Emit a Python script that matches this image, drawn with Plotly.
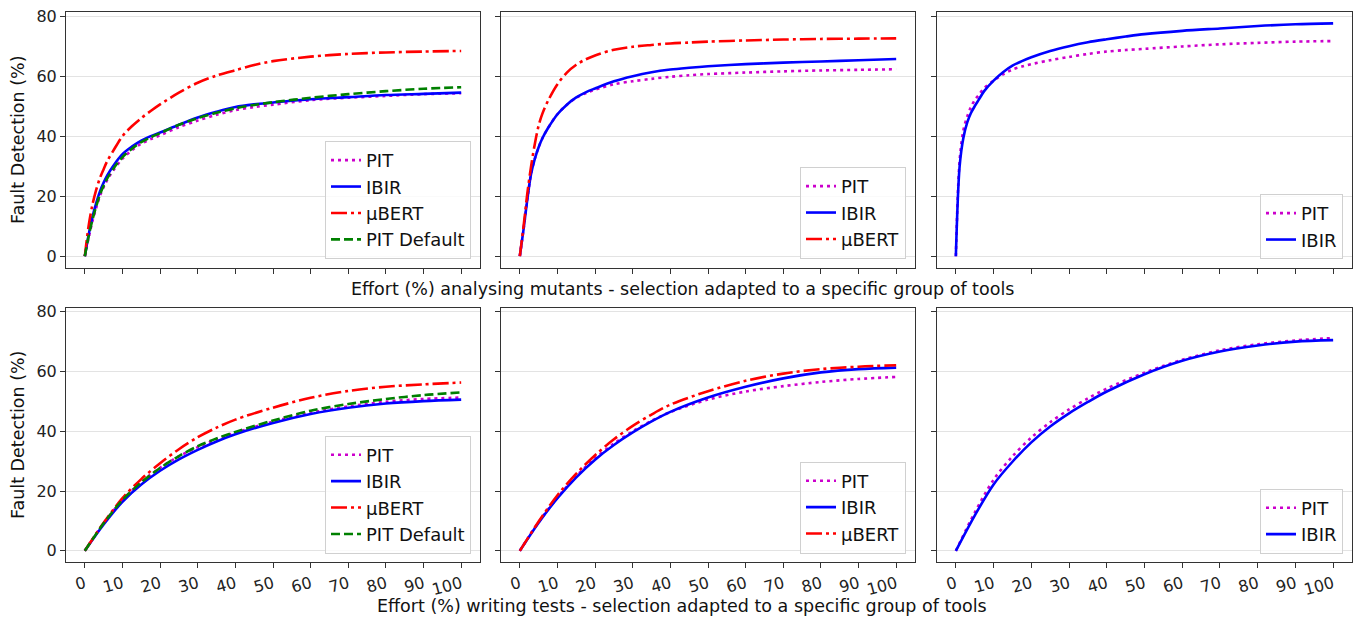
import plotly.graph_objects as go

# ---------------- data ----------------
X_TOP = [0, 1, 2, 3, 4, 5, 6, 7.5, 10, 12.5, 15, 17.5, 20, 25, 30, 35, 40, 45, 50, 60, 70, 80, 90, 100]
X_BOT = [0, 5, 10, 15, 20, 25, 30, 35, 40, 50, 60, 70, 80, 90, 100]

# top row: effort analysing mutants
p1_pit = [0, 6, 11.5, 16, 20, 23, 25.5, 28.5, 32.5, 35.3, 37.5, 39, 40.3, 43, 45.2, 47.1, 48.7, 49.7, 50.5, 52, 52.8, 53.4, 54, 54.3]
p1_ibir = [0, 7, 13, 17.6, 21.5, 24.5, 27, 30, 34, 36.5, 38.5, 40, 41.2, 43.8, 46.2, 48.1, 49.7, 50.6, 51.2, 52.3, 53, 53.7, 54.1, 54.5]
p1_bert = [0, 10, 17, 22, 26, 29, 31.8, 35, 40, 43.3, 46, 48.4, 50.6, 54.5, 57.8, 60.2, 62, 63.7, 65, 66.5, 67.4, 67.9, 68.2, 68.4]
p1_pitd = [0, 6.5, 12, 16.5, 20.5, 23.5, 26, 29, 33, 35.8, 38, 39.6, 41, 43.8, 46, 47.8, 49.3, 50.4, 51.3, 52.8, 54, 55, 55.8, 56.3]

p2_pit = [0, 9, 19, 27.5, 32.5, 36.3, 39.3, 42.7, 47.3, 50.5, 52.8, 54.3, 55.5, 57.3, 58.3, 59.1, 59.8, 60.3, 60.7, 61.2, 61.6, 61.9, 62.1, 62.3]
p2_ibir = [0, 9, 19, 27.5, 32.5, 36.3, 39.3, 42.7, 47.3, 50.5, 52.9, 54.6, 55.9, 58.3, 60, 61.3, 62.2, 62.8, 63.3, 64, 64.5, 64.9, 65.3, 65.7]
p2_bert = [0, 10, 21, 30, 37.5, 43.5, 47.5, 51.8, 57.3, 61.2, 63.8, 65.6, 66.9, 68.8, 69.8, 70.4, 70.9, 71.2, 71.5, 71.9, 72.2, 72.4, 72.5, 72.6]

p3_pit = [0, 32, 42, 46.5, 49.7, 52, 53.6, 56, 58.5, 60.6, 62.2, 63.2, 64, 65.3, 66.4, 67.4, 68.2, 68.7, 69.1, 69.9, 70.6, 71.1, 71.5, 71.7]
p3_ibir = [0, 30, 39.5, 44.5, 47.7, 50, 52, 55, 58.5, 61.3, 63.5, 65, 66.3, 68.4, 70, 71.3, 72.3, 73.2, 74, 75.1, 75.9, 76.7, 77.3, 77.6]

# bottom row: effort writing tests
p4_pit = [0, 9.2, 17.0, 23.0, 27.8, 31.6, 34.7, 37.3, 39.5, 43.2, 46.2, 48.3, 49.9, 50.8, 51.3]
p4_ibir = [0, 8.8, 16.4, 22.2, 26.8, 30.6, 33.8, 36.6, 39.0, 42.8, 45.8, 47.9, 49.3, 50.1, 50.6]
p4_bert = [0, 9.4, 17.6, 24.0, 29.3, 34.0, 38.0, 41.2, 43.9, 47.9, 51.2, 53.5, 54.9, 55.7, 56.3]
p4_pitd = [0, 9.2, 17.0, 22.9, 27.7, 31.7, 35.0, 37.6, 39.8, 43.6, 46.9, 49.1, 50.8, 52.1, 53]

p5_pit = [0, 9.6, 17.8, 25, 31.0, 35.9, 40.0, 43.5, 46.4, 50.6, 53.3, 55.1, 56.5, 57.5, 58.2]
p5_ibir = [0, 9.4, 17.6, 24.6, 30.5, 35.4, 39.6, 43.3, 46.5, 51.3, 54.9, 57.7, 59.7, 60.8, 61.3]
p5_bert = [0, 9.8, 18.6, 25.8, 32.0, 37.3, 41.8, 45.6, 48.9, 53.4, 56.9, 59.3, 60.8, 61.6, 62.1]

p6_pit = [0, 12.8, 23.8, 31.6, 37.9, 43.0, 47.3, 51, 54.3, 59.6, 63.9, 67.1, 69.1, 70.4, 71.2]
p6_ibir = [0, 11.8, 22.2, 29.8, 36.3, 41.6, 46, 49.8, 53.3, 59.1, 63.6, 66.7, 68.7, 70, 70.5]

X_TICKS = [0, 10, 20, 30, 40, 50, 60, 70, 80, 90, 100]
Y_TICKS = [0, 20, 40, 60, 80]
Y_LABEL = "Fault Detection (%)"
X_TITLE_TOP = "Effort (%) analysing mutants - selection adapted to a specific group of tools"
X_TITLE_BOT = "Effort (%) writing tests - selection adapted to a specific group of tools"

# ---------------- styling ----------------
W, H = 1361, 621
FONT = "DejaVu Sans"
LW = 2.6
STY = {
    "PIT": dict(color="#cc00cc", dash="3px,4px"),
    "IBIR": dict(color="#0000ff", dash="solid"),
    "μBERT": dict(color="#ff0000", dash="16px,4px,3px,4px"),
    "PIT Default": dict(color="#008000", dash="9px,4px"),
}

panels = [
    (X_TOP, [("PIT", p1_pit), ("IBIR", p1_ibir), ("μBERT", p1_bert), ("PIT Default", p1_pitd)]),
    (X_TOP, [("PIT", p2_pit), ("IBIR", p2_ibir), ("μBERT", p2_bert)]),
    (X_TOP, [("PIT", p3_pit), ("IBIR", p3_ibir)]),
    (X_BOT, [("PIT", p4_pit), ("IBIR", p4_ibir), ("μBERT", p4_bert), ("PIT Default", p4_pitd)]),
    (X_BOT, [("PIT", p5_pit), ("IBIR", p5_ibir), ("μBERT", p5_bert)]),
    (X_BOT, [("PIT", p6_pit), ("IBIR", p6_ibir)]),
]

# pixel boxes of the six axes (left, right, top, bottom)
cols = [(66, 480), (501, 915), (937, 1352)]
rows = [(7, 265), (305, 562)]

fig = go.Figure()
layout = dict(
    width=W, height=H, margin=dict(l=0, r=0, t=0, b=0),
    paper_bgcolor="white", plot_bgcolor="white",
    font=dict(family=FONT, size=16, color="black"),
    annotations=[],
)

for i, (xs, series) in enumerate(panels):
    r, c = divmod(i, 3)
    n = i + 1
    xa = "x" if n == 1 else f"x{n}"
    ya = "y" if n == 1 else f"y{n}"
    lg = "legend" if n == 1 else f"legend{n}"
    for name, vals in series:
        s = STY[name]
        fig.add_trace(go.Scatter(
            x=xs, y=vals, name=name, mode="lines", xaxis=xa, yaxis=ya, legend=lg,
            line=dict(color=s["color"], width=LW, dash=s["dash"], shape="spline", smoothing=0.9),
        ))
    l, rr = cols[c]
    t, b = rows[r]
    layout[f"xaxis{'' if n == 1 else n}"] = dict(
        domain=[l / W, rr / W], anchor=ya, range=[-5, 105],
        tickvals=X_TICKS, showticklabels=(r == 1), tickangle=-15,
        ticks="outside", ticklen=5, tickcolor="#333", showgrid=False, zeroline=False,
        showline=True, linecolor="#333", linewidth=1, mirror=True,
        tickfont=dict(size=16, family=FONT, color="#222"),
    )
    layout[f"yaxis{'' if n == 1 else n}"] = dict(
        domain=[1 - b / H, 1 - t / H], anchor=xa, range=[-3.9, 81.4],
        tickvals=Y_TICKS, showticklabels=(c == 0),
        ticks="outside", ticklen=5, tickcolor="#333",
        showgrid=True, gridcolor="#e3e3e3", gridwidth=1, zeroline=False,
        showline=True, linecolor="#333", linewidth=1, mirror=True,
        tickfont=dict(size=16, family=FONT, color="#222"),
    )
    layout[lg] = dict(
        x=(rr - 9) / W, y=1 - (b - 9) / H, xanchor="right", yanchor="bottom",
        xref="paper", yref="paper",
        bgcolor="rgba(255,255,255,0.8)", bordercolor="#d0d0d0", borderwidth=1,
        font=dict(size=18, family=FONT, color="#111"), tracegroupgap=0,
    )
    if c == 0:
        layout["annotations"].append(dict(
            text=Y_LABEL, textangle=-90, xref="paper", yref="paper",
            x=18 / W, y=1 - ((t + b) / 2) / H, showarrow=False,
            font=dict(size=17.5, family=FONT, color="#111"), xanchor="center", yanchor="middle",
        ))

layout["annotations"].append(dict(
    text=X_TITLE_TOP, xref="paper", yref="paper", x=682 / W, y=1 - 286 / H,
    showarrow=False, font=dict(size=17.5, family=FONT, color="#111"), xanchor="center", yanchor="middle",
))
layout["annotations"].append(dict(
    text=X_TITLE_BOT, xref="paper", yref="paper", x=682 / W, y=1 - 606 / H,
    showarrow=False, font=dict(size=17.5, family=FONT, color="#111"), xanchor="center", yanchor="middle",
))

fig.update_layout(**layout)
fig.write_html(
    "out.html",
    config={"displayModeBar": False},
    post_script="document.body.style.margin='0';document.body.style.overflow='hidden';",
)
